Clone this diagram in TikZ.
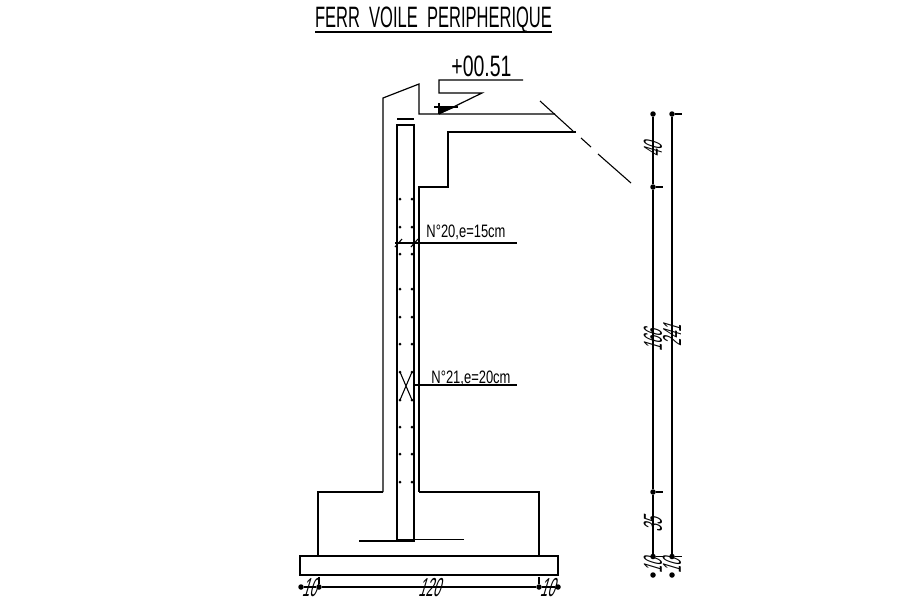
\documentclass[tikz,border=0pt]{standalone}
\usepackage{fontspec}
\setmainfont{Liberation Sans}
\newfontfamily\cadtitle[FakeStretch=0.56]{Liberation Sans}
\newfontfamily\cadlevel[FakeStretch=0.66]{Liberation Sans}
\newfontfamily\cadnote[FakeStretch=0.72]{Liberation Sans}
\newfontfamily\cadslant[FakeStretch=0.5,FakeSlant=0.3]{Liberation Sans}
\tikzset{
  x=1pt,y=-1pt,
  cad/.style={line width=1.2pt,line join=miter,black},
  thin cad/.style={line width=1.1pt,black},
  dimdot/.style={circle,fill=black,inner sep=0pt,minimum size=5.5pt},
  rebar/.style={circle,fill=black,inner sep=0pt,minimum size=3pt},
  titletext/.style={inner sep=0pt,font=\cadtitle\fontsize{29.5}{30}\selectfont},
  leveltext/.style={inner sep=0pt,font=\cadlevel\fontsize{29.5}{30}\selectfont},
  notetext/.style={inner sep=0pt,font=\cadnote\fontsize{18}{18}\selectfont},
  dimtext/.style={inner sep=0pt,font=\cadslant\fontsize{26}{26}\selectfont},
}
\begin{document}
\begin{tikzpicture}
\useasboundingbox (0,0) rectangle (913,603);
\fill[white] (0,0) rectangle (913,603);
% title
\node[titletext] (title) at (433.5,19.5) {FERR\ \ VOILE\ \ PERIPHERIQUE};
\coordinate (tL) at (315,32); \coordinate (tR) at (552,32);
\draw[cad] (tL) -- (tR);
% level mark
\node[leveltext] (level) at (481.5,66) {+00.51};
\coordinate (lA) at (523,80); \coordinate (lB) at (439,80);
\coordinate (lC) at (439,93); \coordinate (lD) at (482,93);
\coordinate (lE) at (439,114);
\draw[cad] (lA) -- (lB) -- (lC) -- (lD) -- (lE);
\fill[black] (439,107) -- (456,107) -- (lE) -- cycle;
\draw[thin cad] (434,107) -- (458,107) (439,103) -- (lE);
% wall outline
\coordinate (w1) at (383,492); \coordinate (w2) at (383,98);
\coordinate (w3) at (419,84);  \coordinate (w4) at (419,114);
\coordinate (w5) at (555,114);
\coordinate (w6) at (576,132); \coordinate (w7) at (448,132);
\coordinate (w8) at (448,187); \coordinate (w9) at (419,187);
\coordinate (w10) at (419,492);
\draw[cad] (w1) -- (w2) -- (w3) -- (w4) -- (w5);
\draw[cad] (w6) -- (w7) -- (w8) -- (w9) -- (w10);
% break line
\draw[thin cad] (540,101) -- (573,131) (581,138) -- (591,147) (598,154) -- (631,183);
% footing
\coordinate (f1) at (318,556); \coordinate (f2) at (318,492);
\coordinate (f3) at (539,492); \coordinate (f4) at (539,556);
\draw[cad] (f1) -- (f2) -- (w1) (w10) -- (f3) -- (f4);
% base slab
\draw[cad] (300,556) rectangle (558,575);
% rebar cage
\coordinate (c1) at (397,125); \coordinate (c2) at (414,125);
\draw[cad] (464,539.5) -- (397,539.5) -- (c1) -- (c2) -- (414,541) -- (359,541);
\draw[cad] (397,119) -- (414,119);
% rebar dots
\foreach \yy in {199,227,254,289,317,344,372,400,427,454,482} {
  \node[rebar] at (400,\yy) {};
  \node[rebar] at (412,\yy) {};
}
% crossing ties
\draw[thin cad] (400,372) -- (412,400) (412,372) -- (400,400);
% leaders
\draw[thin cad] (395,243) -- (517,243);
\draw[thin cad] (395,247) -- (402,239) (411,247) -- (418,239);
\draw[thin cad] (414,385) -- (517,385);
\node[notetext] (n20) at (466,232.5) {N°20,e=15cm};
\node[notetext] (n21) at (471,378) {N°21,e=20cm};
% bottom dimension
\node[dimdot] (b1) at (301,587) {};
\node[dimdot] (b2) at (319,587) {};
\node[dimdot] (b3) at (539,587) {};
\node[dimdot] (b4) at (558,587) {};
\draw[thin cad] (b1) -- (b2) -- (b3) -- (b4);
\draw[thin cad] (319,577) -- (b2) (539,577) -- (b3);
\node[dimtext] (d10a) at (309,588) {10};
\node[dimtext] (d120) at (429,588) {120};
\node[dimtext] (d10b) at (547,588) {10};
% right dimensions
\node[dimdot] (r1) at (653,114) {};
\node[dimdot] (r2) at (653,187) {};
\node[dimdot] (r3) at (653,492) {};
\node[dimdot] (r4) at (653,556.5) {};
\node[dimdot] (r5) at (653,575) {};
\node[dimdot] (s1) at (672,114) {};
\node[dimdot] (s2) at (672,556.5) {};
\node[dimdot] (s3) at (672,575) {};
\draw[thin cad] (r1) -- (r2) -- (r3) -- (r4);
\draw[thin cad] (s1) -- (s2);
\draw[thin cad] (r2) -- (663,187) (r3) -- (663,492) (r4) -- (663,556.5);
\draw[thin cad] (s1) -- (682,114) (s2) -- (682,556.5);
\node[dimtext,rotate=90] (d40) at (653,150) {40};
\node[dimtext,rotate=90] (d166) at (653,341) {166};
\node[dimtext,rotate=90] (d35) at (653,525) {35};
\node[dimtext,rotate=90] (d10c) at (653,566) {10};
\node[dimtext,rotate=90] (d241) at (672,336) {241};
\node[dimtext,rotate=90] (d10d) at (672,566) {10};
\end{tikzpicture}
\end{document}
